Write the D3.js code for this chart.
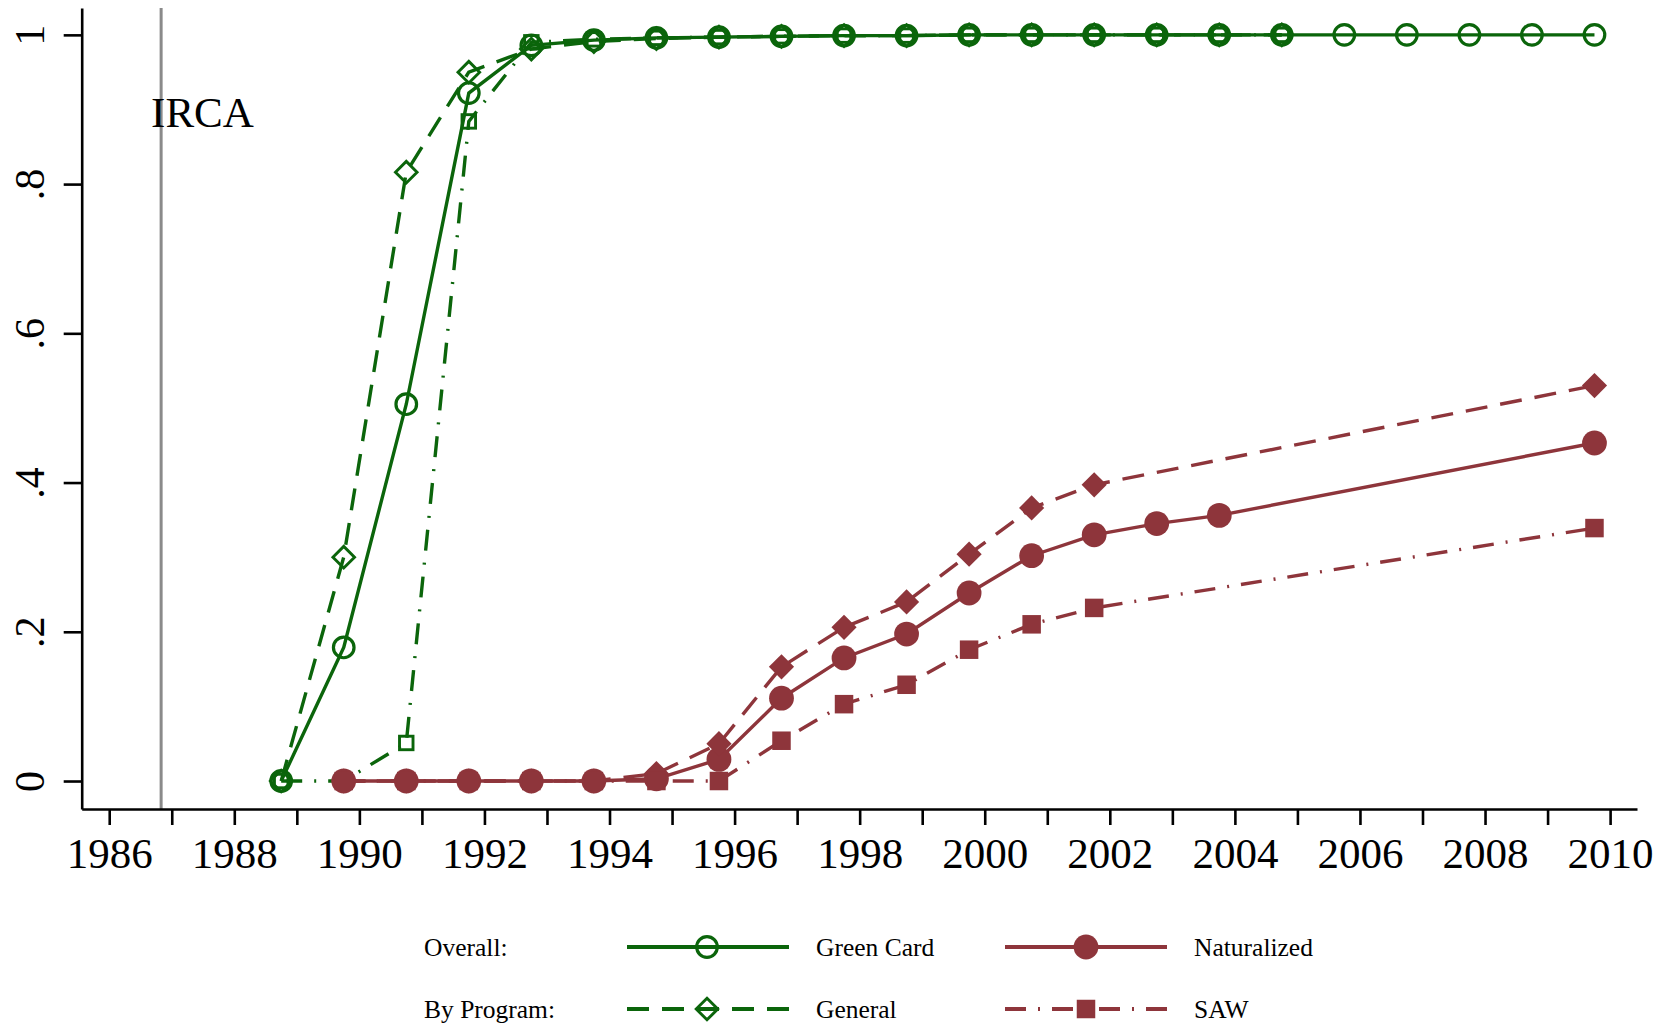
<!DOCTYPE html>
<html><head><meta charset="utf-8">
<script src="https://cdn.jsdelivr.net/npm/d3@7"></script>
<style>
body{margin:0;background:#fff}
svg{display:block}
text{font-family:"Liberation Serif","Times New Roman",serif;fill:#000}
</style>
</head><body>
<svg id="c" width="1667" height="1027"></svg>
<script>
// ---------- DATA ----------
const yTickValues = [0, 0.2, 0.4, 0.6, 0.8, 1];
const yTickLabels = ["0", ".2", ".4", ".6", ".8", "1"];
const xTickValues = [1986,1987,1988,1989,1990,1991,1992,1993,1994,1995,1996,1997,1998,1999,2000,2001,2002,2003,2004,2005,2006,2007,2008,2009,2010];
const xTickLabels = ["1986","","1988","","1990","","1992","","1994","","1996","","1998","","2000","","2002","","2004","","2006","","2008","","2010"];
const ircaYear = 1986.83;
const ircaLabel = "IRCA";

const gcYears = [1988.75,1989.75,1990.75,1991.75,1992.75,1993.75,1994.75,1995.75,1996.75,1997.75,1998.75,1999.75,2000.75,2001.75,2002.75,2003.75,2004.75,2005.75,2006.75,2007.75,2008.75,2009.75];
const greenCardOverall = [0,0.179,0.505,0.922,0.986,0.993,0.996,0.997,0.998,0.999,0.999,1,1,1,1,1,1,1,1,1,1,1];

const gcProgramYears = [1988.75,1989.75,1990.75,1991.75,1992.75,1993.75,1994.75,1995.75,1996.75,1997.75,1998.75,1999.75,2000.75,2001.75,2002.75,2003.75,2004.75];
const greenCardGeneral = [0,0.300,0.816,0.950,0.981,0.991,0.995,0.997,0.998,0.999,0.999,1,1,1,1,1,1];
const greenCardSAW     = [0,0,0.051,0.884,0.990,0.994,0.996,0.997,0.998,0.999,0.999,1,1,1,1,1,1];

const natYears = [1989.75,1990.75,1991.75,1992.75,1993.75,1994.75,1995.75,1996.75,1997.75,1998.75,1999.75,2000.75,2001.75,2002.75,2003.75,2009.75];
const naturalizedOverall = [0,0,0,0,0,0.003,0.029,0.111,0.165,0.197,0.252,0.302,0.330,0.345,0.356,0.453];

const natProgramYears = [1989.75,1990.75,1991.75,1992.75,1993.75,1994.75,1995.75,1996.75,1997.75,1998.75,1999.75,2000.75,2001.75,2009.75];
const naturalizedGeneral = [0,0,0,0,0,0.010,0.050,0.153,0.206,0.240,0.304,0.366,0.397,0.530];
const naturalizedSAW     = [0,0,0,0,0,0,0,0.054,0.103,0.129,0.176,0.210,0.232,0.339];

const legendRow1Label = "Overall:";
const legendRow2Label = "By Program:";

// ---------- STYLE ----------
const GREEN = "#0b650b";
const RED = "#8e353b";
const DASH = "22,13";
const DASHDOT = "21,12,2,12";
const LW = 3.4;

const svg = d3.select("#c");
const x = d3.scaleLinear().domain([1985.56, 2010.43]).range([81.7, 1637]);
const y = d3.scaleLinear().domain([-0.0375, 1.036]).range([809, 8]);

// IRCA line
svg.append("line")
  .attr("x1", x(ircaYear)).attr("x2", x(ircaYear))
  .attr("y1", y.range()[0]).attr("y2", y.range()[1])
  .attr("stroke", "#8a8a8a").attr("stroke-width", 3);
svg.append("text").attr("x", x(ircaYear) - 10).attr("y", 126.7)
  .attr("font-size", 43).text(ircaLabel);

// Axes
const gx = svg.append("g").attr("transform", `translate(0,${y.range()[0]})`)
  .call(d3.axisBottom(x).tickValues(xTickValues).tickSize(16).tickSizeOuter(0)
    .tickFormat((d, i) => xTickLabels[i]));
gx.selectAll("path,line").attr("stroke", "#000").attr("stroke-width", 2.6);
gx.selectAll("text").attr("y", 59).attr("dy", 0).attr("font-size", 43)
  .attr("font-family", '"Liberation Serif", serif').attr("fill", "#000");

const gy = svg.append("g").attr("transform", `translate(${x.range()[0]},0)`)
  .call(d3.axisLeft(y).tickValues(yTickValues).tickSize(18).tickSizeOuter(0)
    .tickFormat((d, i) => yTickLabels[i]));
gy.selectAll("path,line").attr("stroke", "#000").attr("stroke-width", 2.6);
gy.selectAll("text").attr("x", 0).attr("dy", 0).attr("text-anchor", "middle")
  .attr("transform", "translate(-38,0) rotate(-90)")
  .attr("font-size", 42).attr("font-family", '"Liberation Serif", serif').attr("fill", "#000");

// Markers
function marker(g, type, cx, cy, color) {
  if (type === "circleO") {
    g.append("circle").attr("cx", cx).attr("cy", cy).attr("r", 10.3)
      .attr("fill", "none").attr("stroke", color).attr("stroke-width", 3.2);
  } else if (type === "circleF") {
    g.append("circle").attr("cx", cx).attr("cy", cy).attr("r", 12.4).attr("fill", color);
  } else if (type === "diamondO" || type === "diamondF") {
    const h = type === "diamondO" ? 10.8 : 12.6;
    g.append("path").attr("d", `M${cx},${cy - h}L${cx + h},${cy}L${cx},${cy + h}L${cx - h},${cy}Z`)
      .attr("fill", type === "diamondF" ? color : "none")
      .attr("stroke", type === "diamondO" ? color : "none").attr("stroke-width", 2.9);
  } else if (type === "squareO") {
    const s = 13.5;
    g.append("rect").attr("x", cx - s / 2).attr("y", cy - s / 2).attr("width", s).attr("height", s)
      .attr("fill", "none").attr("stroke", color).attr("stroke-width", 2.9);
  } else if (type === "squareF") {
    const s = 18.5;
    g.append("rect").attr("x", cx - s / 2).attr("y", cy - s / 2).attr("width", s).attr("height", s)
      .attr("fill", color);
  }
}

const series = [
  {xs: gcYears, ys: greenCardOverall, color: GREEN, dash: null, m: "circleO"},
  {xs: gcProgramYears, ys: greenCardGeneral, color: GREEN, dash: DASH, m: "diamondO"},
  {xs: gcProgramYears, ys: greenCardSAW, color: GREEN, dash: DASHDOT, m: "squareO"},
  {xs: natYears, ys: naturalizedOverall, color: RED, dash: null, m: "circleF"},
  {xs: natProgramYears, ys: naturalizedGeneral, color: RED, dash: DASH, m: "diamondF"},
  {xs: natProgramYears, ys: naturalizedSAW, color: RED, dash: DASHDOT, m: "squareF"}
];

const line = d3.line().x(d => x(d[0])).y(d => y(d[1]));
series.forEach(s => {
  const pts = s.xs.map((v, i) => [v, s.ys[i]]);
  const g = svg.append("g");
  g.append("path").attr("d", line(pts)).attr("fill", "none")
    .attr("stroke", s.color).attr("stroke-width", LW)
    .attr("stroke-dasharray", s.dash);
  pts.forEach(p => marker(g, s.m, x(p[0]), y(p[1]), s.color));
});

// Legend
const legend = svg.append("g");
const rows = [
  {label: legendRow1Label, y: 947, items: [
    {x1: 627, x2: 789, mx: 707, tx: 816, color: GREEN, dash: null, m: "circleO", name: "Green Card"},
    {x1: 1005, x2: 1167, mx: 1086, tx: 1194, color: RED, dash: null, m: "circleF", name: "Naturalized"}]},
  {label: legendRow2Label, y: 1009, items: [
    {x1: 627, x2: 789, mx: 707, tx: 816, color: GREEN, dash: DASH, m: "diamondO", name: "General"},
    {x1: 1005, x2: 1167, mx: 1086, tx: 1194, color: RED, dash: DASHDOT, m: "squareF", name: "SAW"}]}
];
rows.forEach(r => {
  legend.append("text").attr("x", 424).attr("y", r.y + 9).attr("font-size", 25.5).text(r.label);
  r.items.forEach(it => {
    legend.append("line").attr("x1", it.x1).attr("x2", it.x2).attr("y1", r.y).attr("y2", r.y)
      .attr("stroke", it.color).attr("stroke-width", 4).attr("stroke-dasharray", it.dash);
    marker(legend, it.m, it.mx, r.y, it.color);
    legend.append("text").attr("x", it.tx).attr("y", r.y + 9).attr("font-size", 25.5).text(it.name);
  });
});
</script>
</body></html>
